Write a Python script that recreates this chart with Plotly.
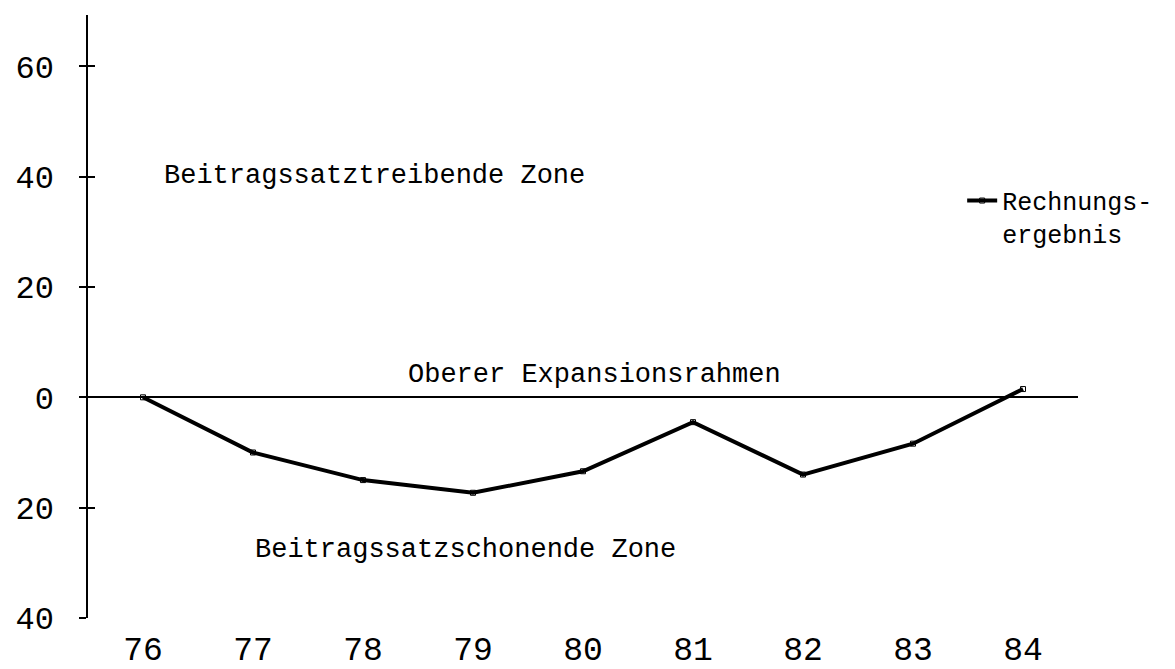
import plotly.graph_objects as go

# Data
years = [76, 77, 78, 79, 80, 81, 82, 83, 84]
year_labels = ["76", "77", "78", "79", "80", "81", "82", "83", "84"]
rechnungsergebnis = [0, -10, -15, -17.3, -13.4, -4.5, -14, -8.4, 1.5]
y_tickvals = [60, 40, 20, 0, -20, -40]
y_ticktext = ["60", "40", "20", "0", "20", "40"]
series_name = "Rechnungs-<br>ergebnis"

FONT = "Liberation Mono"

fig = go.Figure()
fig.add_trace(go.Scatter(
    x=years, y=rechnungsergebnis, mode="lines+markers", name=series_name,
    line=dict(color="black", width=4),
    marker=dict(symbol="square-open", size=5, color="black", line=dict(width=1)),
))
# invisible trace to draw crossing ticks on the y axis
fig.add_trace(go.Scatter(x=[years[0]], y=[0], yaxis="y2", mode="none",
                         showlegend=False, hoverinfo="skip"))

fig.update_layout(
    width=1175, height=669,
    margin=dict(l=77, r=105, t=7, b=49),
    paper_bgcolor="white", plot_bgcolor="white",
    font=dict(family=FONT, color="black", size=26),
    showlegend=True,
    legend=dict(x=0.883, y=0.73, xanchor="left", yanchor="top",
                valign="top", bgcolor="rgba(0,0,0,0)",
                font=dict(family=FONT, size=25, color="black"),
                itemwidth=30, tracegroupgap=0),
    xaxis=dict(range=[75.5, 84.5], tickvals=years, ticktext=year_labels,
               showgrid=False, zeroline=False, showline=False, ticks="",
               ticklabelstandoff=8,
               tickfont=dict(family=FONT, size=33, color="black")),
    yaxis=dict(range=[-40, 69.3], tickvals=y_tickvals, ticktext=y_ticktext,
               showgrid=False, zeroline=True, zerolinecolor="black", zerolinewidth=2,
               showline=True, linecolor="black", linewidth=1.5,
               ticks="outside", ticklen=7, tickwidth=1.5, tickcolor="black",
               ticklabelstandoff=19,
               tickfont=dict(family=FONT, size=32, color="black")),
    yaxis2=dict(range=[-40, 69.3], overlaying="y", side="left", tickvals=y_tickvals,
                showticklabels=False, showgrid=False, zeroline=False, showline=False,
                ticks="inside", ticklen=7, tickwidth=1.5, tickcolor="black"),
)

annots = [
    ("Beitragssatztreibende Zone", 76.17, 40.2),
    ("Oberer Expansionsrahmen", 78.39, 4.1),
    ("Beitragssatzschonende Zone", 77.0, -27.7),
]
for txt, ax, ay in annots:
    fig.add_annotation(x=ax, y=ay, text=txt, showarrow=False, xanchor="left",
                       yanchor="middle", font=dict(family=FONT, size=27, color="black"))

fig.write_html("out.html")
